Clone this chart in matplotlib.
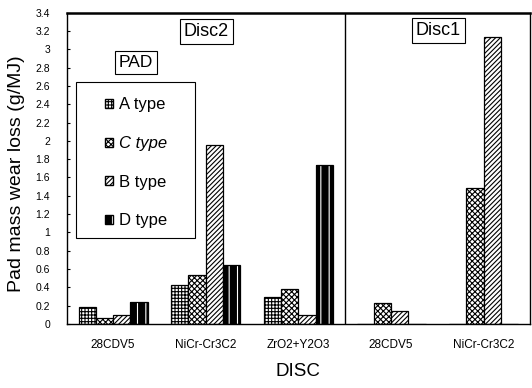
import numpy as np
import matplotlib
matplotlib.use("Agg")
import matplotlib.pyplot as plt
from matplotlib.patches import Patch, Rectangle

plt.rcParams['font.family'] = ['Liberation Sans', 'DejaVu Sans']
plt.rcParams['hatch.linewidth'] = 0.8

discs = ["28CDV5", "NiCr-Cr3C2", "ZrO2+Y2O3", "28CDV5", "NiCr-Cr3C2"]
pad_types = ["A type", "C type", "B type", "D type"]
a_type = [0.18, 0.43, 0.29, 0.0, 0.0]
c_type = [0.06, 0.53, 0.38, 0.23, 1.48]
b_type = [0.10, 1.95, 0.10, 0.14, 3.13]
d_type = [0.24, 0.64, 1.74, 0.0, 0.0]
yticks = np.arange(0, 3.41, 0.2)

fig = plt.figure(figsize=(5.32, 3.88), dpi=100)
ax = fig.add_axes([0.1254, 0.165, 0.8709, 0.8023])

x = np.arange(len(discs))
w = 0.186
ax.bar(x - 1.5 * w, a_type, w, color='white', edgecolor='black', hatch='+++++', linewidth=0.9)
ax.bar(x - 0.5 * w, c_type, w, color='white', edgecolor='black', hatch='xxxxxx', linewidth=0.9)
ax.bar(x + 0.5 * w, b_type, w, color='white', edgecolor='black', hatch='///////', linewidth=0.9)
ax.bar(x + 1.5 * w, d_type, w, color='black', edgecolor='white', hatch='||', linewidth=0)
ax.bar(x + 1.5 * w, d_type, w, fill=False, edgecolor='black', linewidth=0.9)

# disc1 / disc2 divider
ax.axvline(2.5, color='black', linewidth=1)

ax.set_xlim(-0.5, len(discs) - 0.5)
ax.set_ylim(0, 3.4)
ax.set_yticks(yticks)
ax.set_yticklabels(['%g' % round(v, 1) for v in yticks], fontsize=7.5)
ax.set_xticks(x)
ax.set_xticklabels(discs, fontsize=8.5)
ax.tick_params(axis='x', length=0, pad=11)
ax.tick_params(axis='y', direction='in', length=2.5, pad=12)
for s in ax.spines.values():
    s.set_linewidth(1.0)
ax.spines['top'].set_linewidth(1.8)

ax.set_xlabel("DISC", fontsize=13.5)
ax.xaxis.set_label_coords(0.5, -0.125)
ax.set_ylabel("Pad mass wear loss (g/MJ)", fontsize=14)
ax.yaxis.set_label_coords(-0.09, 0.482)

box = dict(boxstyle='square,pad=0.22', facecolor='white', edgecolor='black', linewidth=0.8)
ax.text(0.1496, 0.840, "PAD", transform=ax.transAxes, ha='center', va='center', fontsize=12.5, bbox=box)
ax.text(0.301, 0.941, "Disc2", transform=ax.transAxes, ha='center', va='center', fontsize=13, bbox=box)
ax.text(0.8025, 0.943, "Disc1", transform=ax.transAxes, ha='center', va='center', fontsize=13, bbox=box)

# legend frame drawn by hand, entries placed inside it
ax.add_patch(Rectangle((0.020, 0.277), 0.2569, 0.501, transform=ax.transAxes,
                       facecolor='white', edgecolor='black', linewidth=0.8, zorder=3))
handles = [
    Patch(facecolor='white', edgecolor='black', hatch='+++++'),
    Patch(facecolor='white', edgecolor='black', hatch='xxxxxx'),
    Patch(facecolor='white', edgecolor='black', hatch='///////'),
    (Patch(facecolor='black', edgecolor='white', hatch='||', linewidth=0),
     Patch(fill=False, edgecolor='black')),
]
leg = ax.legend(handles, pad_types, loc='upper left', bbox_to_anchor=(0.0827, 0.728),
                borderaxespad=0, borderpad=0, frameon=False, fontsize=12,
                handlelength=0.45, handleheight=0.45, handletextpad=0.38, labelspacing=1.42)
leg.set_zorder(4)
leg.get_texts()[1].set_style('italic')

fig.savefig("out.png", dpi=100)
